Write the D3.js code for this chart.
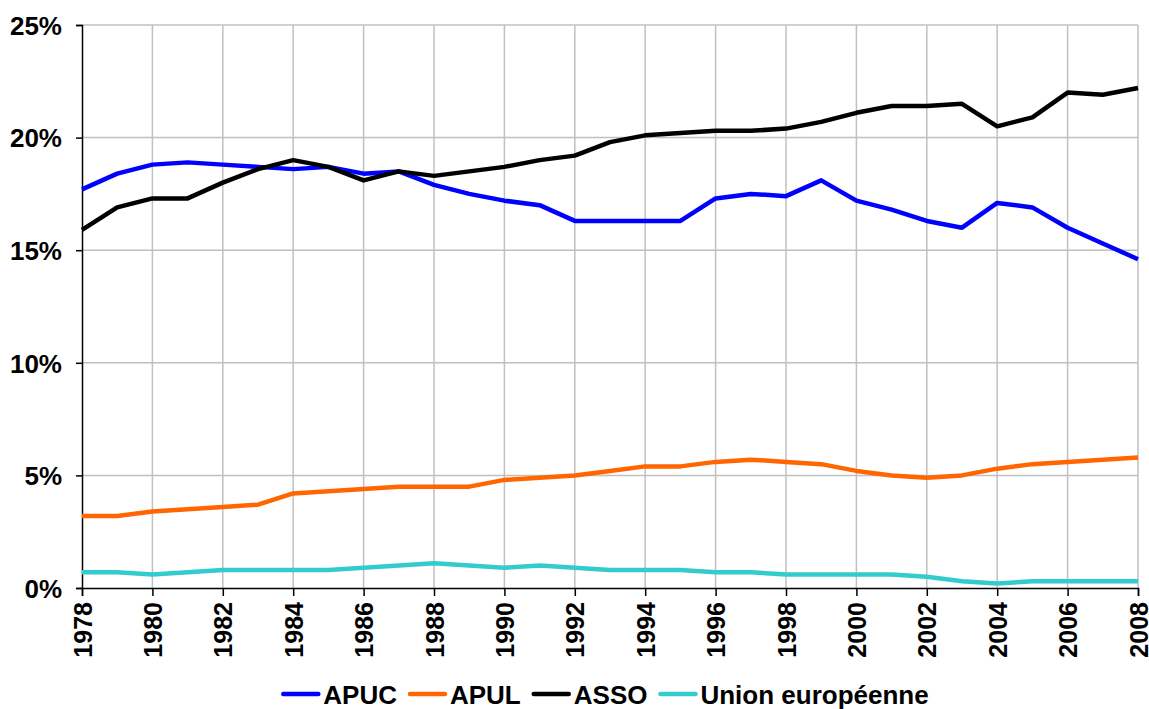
<!DOCTYPE html>
<html>
<head>
<meta charset="utf-8">
<script src="https://cdn.jsdelivr.net/npm/d3@7"></script>
<style>
  body { margin: 0; background: #fff; }
  text { font-family: Arial, "Liberation Sans", sans-serif; font-weight: bold; }
</style>
</head>
<body>
<div id="chart"></div>
<script>
// years and series values (share, %)
var years = d3.range(1978, 2009);
var apuc = [17.7, 18.4, 18.8, 18.9, 18.8, 18.7, 18.6, 18.7, 18.4, 18.5,
            17.9, 17.5, 17.2, 17.0, 16.3, 16.3, 16.3, 16.3, 17.3, 17.5,
            17.4, 18.1, 17.2, 16.8, 16.3, 16.0, 17.1, 16.9, 16.0, 15.3, 14.6];
var apul = [3.2, 3.2, 3.4, 3.5, 3.6, 3.7, 4.2, 4.3, 4.4, 4.5,
            4.5, 4.5, 4.8, 4.9, 5.0, 5.2, 5.4, 5.4, 5.6, 5.7,
            5.6, 5.5, 5.2, 5.0, 4.9, 5.0, 5.3, 5.5, 5.6, 5.7, 5.8];
var asso = [15.9, 16.9, 17.3, 17.3, 18.0, 18.6, 19.0, 18.7, 18.1, 18.5,
            18.3, 18.5, 18.7, 19.0, 19.2, 19.8, 20.1, 20.2, 20.3, 20.3,
            20.4, 20.7, 21.1, 21.4, 21.4, 21.5, 20.5, 20.9, 22.0, 21.9, 22.2];
var ue   = [0.7, 0.7, 0.6, 0.7, 0.8, 0.8, 0.8, 0.8, 0.9, 1.0,
            1.1, 1.0, 0.9, 1.0, 0.9, 0.8, 0.8, 0.8, 0.7, 0.7,
            0.6, 0.6, 0.6, 0.6, 0.5, 0.3, 0.2, 0.3, 0.3, 0.3, 0.3];
var seriesNames = ["APUC", "APUL", "ASSO", "Union européenne"];
var seriesColors = ["#0000ff", "#ff6600", "#000000", "#33cccc"];
var yTicks = [0, 5, 10, 15, 20, 25];
var xTicks = d3.range(1978, 2009, 2);

var margin = {top: 25, right: 11, bottom: 121, left: 82},
    W = 1149, H = 709,
    width = W - margin.left - margin.right,
    height = H - margin.top - margin.bottom;

var svg = d3.select("#chart").append("svg")
    .attr("width", W).attr("height", H);
var g = svg.append("g")
    .attr("transform", "translate(" + margin.left + "," + margin.top + ")");

var x = d3.scaleLinear().domain([1978, 2008]).range([0, width]);
var y = d3.scaleLinear().domain([0, 25]).range([height, 0]);

// grid lines
g.append("g").selectAll("line.v")
    .data(xTicks.slice(1))
    .enter().append("line")
    .attr("x1", d => x(d)).attr("x2", d => x(d))
    .attr("y1", 0).attr("y2", height)
    .attr("stroke", "#c0c0c0").attr("stroke-width", 1.5);
g.append("g").selectAll("line.h")
    .data(yTicks.slice(1))
    .enter().append("line")
    .attr("x1", 0).attr("x2", width)
    .attr("y1", d => y(d)).attr("y2", d => y(d))
    .attr("stroke", "#c0c0c0").attr("stroke-width", 1.5);

// axes
var yAxis = g.append("g")
    .call(d3.axisLeft(y).tickValues(yTicks).tickSize(6).tickFormat(d => d + "%"));
var xAxis = g.append("g")
    .attr("transform", "translate(0," + height + ")")
    .call(d3.axisBottom(x).tickValues(xTicks).tickSize(8).tickFormat(d3.format("d")));

[yAxis, xAxis].forEach(function (a) {
    a.select(".domain").attr("stroke", "#000").attr("stroke-width", 1.5);
    a.selectAll(".tick line").attr("stroke", "#000").attr("stroke-width", 1.5);
});
yAxis.selectAll("text")
    .attr("x", -20).attr("dy", "0.36em")
    .style("font-size", "26px").attr("fill", "#000");
xAxis.selectAll("text")
    .attr("transform", "rotate(-90)")
    .attr("x", -14).attr("y", 0).attr("dy", "0.36em")
    .style("text-anchor", "end")
    .style("font-size", "25px").attr("fill", "#000");

// lines
var allSeries = [apuc, apul, asso, ue];
var line = d3.line()
    .x(function (d, i) { return x(years[i]); })
    .y(function (d) { return y(d); });

allSeries.forEach(function (s, k) {
    g.append("path")
        .datum(s)
        .attr("fill", "none")
        .attr("stroke", seriesColors[k])
        .attr("stroke-width", 4.5)
        .attr("stroke-linejoin", "round")
        .attr("d", line);
});

// legend
var legend = svg.append("g");
var lx = 0;
seriesNames.forEach(function (name, k) {
    var item = legend.append("g").attr("transform", "translate(" + lx + ",0)");
    item.append("line")
        .attr("x1", 0).attr("x2", 35)
        .attr("y1", 694).attr("y2", 694)
        .attr("stroke", seriesColors[k]).attr("stroke-width", 4.5)
        .attr("stroke-linecap", "round");
    var t = item.append("text")
        .attr("x", 40).attr("y", 704)
        .style("font-size", "26px")
        .text(name);
    lx += 40 + t.node().getComputedTextLength() + 13;
});
var legendW = lx - 13;
legend.attr("transform", "translate(" + (606 - legendW / 2) + ",0)");
</script>
</body>
</html>
